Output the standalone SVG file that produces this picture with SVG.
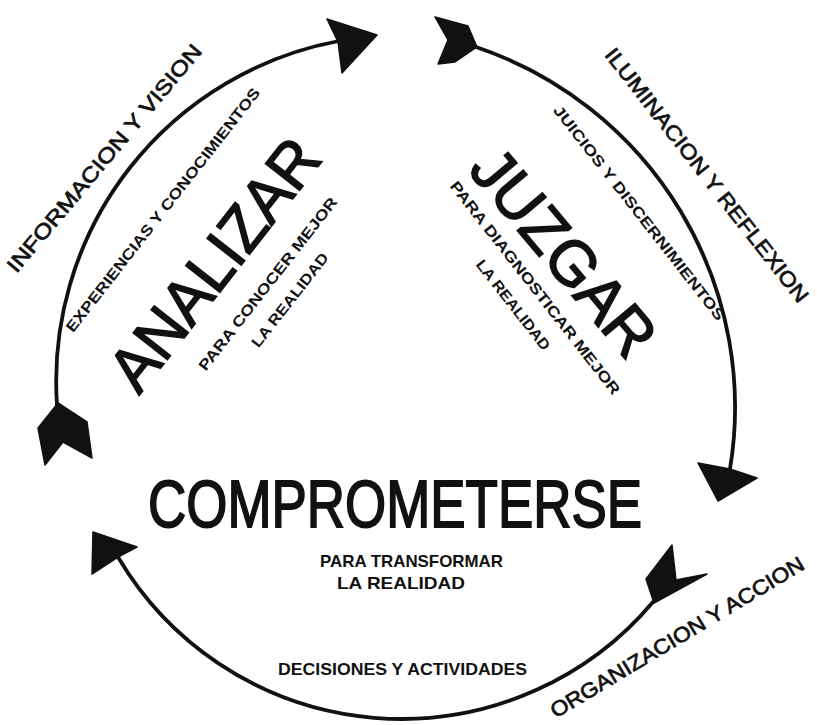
<svg xmlns="http://www.w3.org/2000/svg" width="817" height="725" viewBox="0 0 817 725">
<style>
text{font-family:"Liberation Sans","DejaVu Sans",Arial,sans-serif;fill:#111;text-anchor:middle}
.big{font-size:63px;stroke:#111;stroke-width:1.6}
.lbl{font-size:21px;stroke:#111;stroke-width:0.7}
.sm{font-size:15px;font-weight:bold}
.arc{fill:none;stroke:#111;stroke-width:3.8;stroke-linecap:round}
.hd{fill:#111;stroke:#111;stroke-width:1.5;stroke-linejoin:round}
</style>
<rect width="817" height="725" fill="#fff"/>
<g id="connectors">
<path class="arc" d="M57 405 A346 346 0 0 1 339 41"/>
<polygon class="hd" points="327,19 377,35 342,73 338,42"/>
<polygon class="hd" points="58,403 87,422 92,458 63,442 45,465 38,428"/>
<path class="arc" d="M476 47 A380 380 0 0 1 730 469"/>
<polygon class="hd" points="435,17 468,26 477,47 455,62 438,64 448,40"/>
<polygon class="hd" points="698,463 730,469 757,478 718,501"/>
<path class="arc" d="M653 602 A329 329 0 0 1 118 557"/>
<polygon class="hd" points="672,545 676,580 707,574 654,603 646,579"/>
<polygon class="hd" points="93,532 137,547 118,557 92,574"/>
</g>
<g id="analizar">
<text class="big" transform="translate(214,264) rotate(-52)" y="22" textLength="300" lengthAdjust="spacingAndGlyphs">ANALIZAR</text>
<text class="sm" transform="translate(268,284) rotate(-52)" y="5" textLength="215" lengthAdjust="spacingAndGlyphs">PARA CONOCER MEJOR</text>
<text class="sm" transform="translate(290,300) rotate(-52)" y="5" textLength="115" lengthAdjust="spacingAndGlyphs">LA REALIDAD</text>
</g>
<g id="juzgar">
<text class="big" transform="translate(564,252) rotate(50)" y="22" textLength="250" lengthAdjust="spacingAndGlyphs">JUZGAR</text>
<text class="sm" transform="translate(535,288) rotate(52)" y="5" textLength="266" lengthAdjust="spacingAndGlyphs">PARA DIAGNOSTICAR MEJOR</text>
<text class="sm" transform="translate(513,305) rotate(52)" y="5" textLength="110" lengthAdjust="spacingAndGlyphs">LA REALIDAD</text>
</g>
<g id="comprometerse">
<text x="395" y="527" style="font-size:66px;stroke:#111;stroke-width:1.8" textLength="494" lengthAdjust="spacingAndGlyphs">COMPROMETERSE</text>
<text class="sm" x="411.5" y="567" style="font-size:17px" textLength="183" lengthAdjust="spacingAndGlyphs">PARA TRANSFORMAR</text>
<text class="sm" x="401" y="589" style="font-size:17px" textLength="128" lengthAdjust="spacingAndGlyphs">LA REALIDAD</text>
</g>
<g id="labels">
<text class="lbl" transform="translate(104,158) rotate(-50)" y="7.5" textLength="290" lengthAdjust="spacingAndGlyphs">INFORMACION Y VISION</text>
<text class="sm" transform="translate(163,210) rotate(-52)" y="5" textLength="305" lengthAdjust="spacingAndGlyphs">EXPERIENCIAS Y CONOCIMIENTOS</text>
<text class="lbl" transform="translate(707,175) rotate(52)" y="7.5" textLength="316" lengthAdjust="spacingAndGlyphs">ILUMINACION Y REFLEXION</text>
<text class="sm" transform="translate(639,213) rotate(52)" y="5" textLength="268" lengthAdjust="spacingAndGlyphs">JUICIOS Y DISCERNIMIENTOS</text>
<text class="sm" x="402.5" y="675" style="font-size:17px" textLength="249" lengthAdjust="spacingAndGlyphs">DECISIONES Y ACTIVIDADES</text>
<text class="lbl" transform="translate(677,637) rotate(-31)" y="7.5" textLength="292" lengthAdjust="spacingAndGlyphs">ORGANIZACION Y ACCION</text>
</g>
</svg>
